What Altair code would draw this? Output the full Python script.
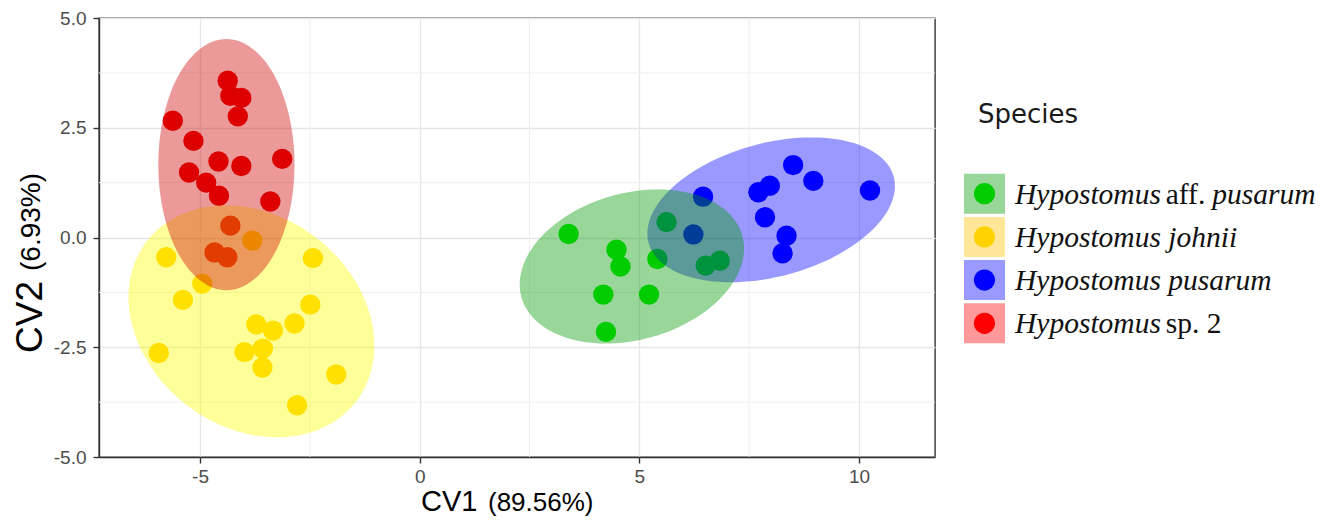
import math
import altair as alt
import pandas as pd

# ---------------- data ----------------
species = ["Hypostomus aff. pusarum", "Hypostomus johnii", "Hypostomus pusarum", "Hypostomus sp. 2"]

green_cv1 = [3.39, 4.48, 4.57, 5.41, 5.62, 6.51, 6.83, 4.18, 5.22, 4.24]
green_cv2 = [0.08, -0.28, -0.66, -0.49, 0.35, -0.64, -0.53, -1.30, -1.30, -2.15]

yellow_cv1 = [-5.77, -3.81, -4.95, -5.39, -2.43, -2.49, -3.72, -3.34, -2.85, -5.94, -3.99, -3.57, -3.58, -1.90, -2.79]
yellow_cv2 = [-0.45, -0.07, -1.05, -1.42, -0.47, -1.53, -1.98, -2.12, -1.96, -2.63, -2.61, -2.53, -2.96, -3.12, -3.82]

blue_cv1 = [6.45, 6.23, 7.71, 7.97, 8.50, 8.96, 10.25, 7.86, 8.35, 8.26]
blue_cv2 = [0.93, 0.07, 1.03, 1.18, 1.65, 1.29, 1.07, 0.46, 0.04, -0.36]

red_cv1 = [-4.37, -4.31, -4.06, -4.14, -5.62, -5.15, -5.25, -4.58, -4.06, -3.13, -4.86, -4.57, -3.40, -4.31, -4.67, -4.38]
red_cv2 = [3.57, 3.23, 3.18, 2.76, 2.66, 2.20, 1.48, 1.73, 1.63, 1.79, 1.25, 0.95, 0.82, 0.27, -0.34, -0.45]

# ellipse parameters (centre, semi-axes, rotation in degrees)
ell_cx = [4.83, -3.83, 8.00, -4.40]
ell_cy = [-0.66, -1.91, 0.63, 1.66]
ell_a = [2.61, 3.00, 2.89, 1.55]
ell_b = [1.67, 2.41, 1.52, 2.86]
ell_ang = [15.6, -37.3, 15.1, 0.0]

x_ticks = [-5, 0, 5, 10]
y_ticks = [-5.0, -2.5, 0.0, 2.5, 5.0]
x_minor = [-2.5, 2.5, 7.5]
y_minor = [-3.75, -1.25, 1.25, 3.75]

x_title = ["CV1", "(89.56%)"]
y_title = ["CV2", "(6.93%)"]
legend_title = "Species"
label_parts = [
    [("Hypostomus", "italic"), ("aff.", "normal"), ("pusarum", "italic")],
    [("Hypostomus johnii", "italic")],
    [("Hypostomus pusarum", "italic")],
    [("Hypostomus", "italic"), ("sp. 2", "normal")],
]

# ---------------- styles ----------------
point_colors = ["#00EE00", "#FFCC00", "#0000FF", "#E60000"]
ellipse_fill = ["#009900", "#FFFF00", "#0000FF", "#CC0000"]
legend_key_fill = ["#99D699", "#FFE699", "#9999FF", "#FF9999"]
legend_dot = ["#00CC00", "#FFD200", "#0000FF", "#FF0000"]
W, H = 836, 439

series = [(green_cv1, green_cv2), (yellow_cv1, yellow_cv2), (blue_cv1, blue_cv2), (red_cv1, red_cv2)]
rows = []
for sp, (xs, ys) in zip(species, series):
    for x, y in zip(xs, ys):
        rows.append({"species": sp, "cv1": x, "cv2": y})
pts = pd.DataFrame(rows)

xscale = alt.Scale(domain=[-7.3, 11.73], nice=False, zero=False)
yscale = alt.Scale(domain=[-5, 5], nice=False, zero=False)

neg = "(datum.value < 0 ? '-' : '')"
xaxis = alt.Axis(values=x_ticks, title=None, labelExpr=neg + " + format(abs(datum.value), 'd')")
yaxis = alt.Axis(values=y_ticks, title=None, labelExpr=neg + " + format(abs(datum.value), '.1f')")

minor_v = alt.Chart(pd.DataFrame({"v": x_minor})).mark_rule(color="#EFEFEF", strokeWidth=1).encode(
    x=alt.X("v:Q", scale=xscale, axis=xaxis))
minor_h = alt.Chart(pd.DataFrame({"h": y_minor})).mark_rule(color="#EFEFEF", strokeWidth=1).encode(
    y=alt.Y("h:Q", scale=yscale, axis=yaxis))

points = alt.Chart(pts).mark_circle(size=415, opacity=1).encode(
    x=alt.X("cv1:Q", scale=xscale, axis=xaxis),
    y=alt.Y("cv2:Q", scale=yscale, axis=yaxis),
    color=alt.Color("species:N", scale=alt.Scale(domain=species, range=point_colors), legend=None),
)

def ellipse_layer(i):
    th = math.radians(ell_ang[i])
    recs = []
    n = 120
    for k in range(n + 1):
        t = 2 * math.pi * k / n
        x = ell_cx[i] + ell_a[i] * math.cos(th) * math.cos(t) - ell_b[i] * math.sin(th) * math.sin(t)
        y = ell_cy[i] + ell_a[i] * math.sin(th) * math.cos(t) + ell_b[i] * math.cos(th) * math.sin(t)
        recs.append({"k": k, "ex": x, "ey": y})
    return alt.Chart(pd.DataFrame(recs)).mark_line(
        fill=ellipse_fill[i], fillOpacity=0.4, strokeOpacity=0, strokeWidth=0
    ).encode(
        x=alt.X("ex:Q", scale=xscale, axis=xaxis),
        y=alt.Y("ey:Q", scale=yscale, axis=yaxis),
        order="k:Q",
    )

# draw order of the ellipses: johnii, pusarum, aff. pusarum, sp. 2
ellipses = [ellipse_layer(i) for i in (1, 2, 0, 3)]

def text_at(txt, x, y, size, font="Liberation Sans", style="normal", angle=0, align="left",
            baseline="alphabetic", color="#000000"):
    return alt.Chart(pd.DataFrame({"t": [txt]})).mark_text(
        font=font, fontSize=size, fontStyle=style, angle=angle, align=align,
        baseline=baseline, color=color,
    ).encode(text="t:N", x=alt.value(x), y=alt.value(y))

titles = [
    text_at(x_title[0], 322, 493, 29),
    text_at(x_title[1], 389, 493, 26),
    text_at(y_title[0], -57, 335, 37, angle=270),
    text_at(y_title[1], -59, 253, 28, angle=270),
    text_at(legend_title, 879, 105, 26, font="DejaVu Sans", color="#1A1A1A"),
]

legend_layers = []
piece_offsets = {1: [0], 2: [0, 150.7], 3: [0, 150.7, 197.3]}
for i, sp in enumerate(species):
    cy = 175.7 + i * 43.2
    legend_layers.append(
        alt.Chart(pd.DataFrame({"s": [sp]})).mark_rect(color=legend_key_fill[i]).encode(
            x=alt.value(865), x2=alt.value(906), y=alt.value(cy - 20), y2=alt.value(cy + 20))
    )
    legend_layers.append(
        alt.Chart(pd.DataFrame({"s": [sp]})).mark_circle(size=450, opacity=1, color=legend_dot[i]).encode(
            x=alt.value(885.5), y=alt.value(cy))
    )
    parts = label_parts[i]
    offs = piece_offsets[len(parts)]
    for (txt, style), off in zip(parts, offs):
        legend_layers.append(text_at(txt, 916 + off, cy + 1, 29.5, font="Liberation Serif", style=style,
                                     baseline="middle", color="#111111"))

chart = alt.layer(minor_v, minor_h, points, *ellipses, *titles, *legend_layers).properties(
    width=W, height=H,
    padding={"left": 91, "top": 10, "right": 395, "bottom": 62},
    autosize=alt.AutoSizeParams(type="none"),
).configure_view(
    stroke="#333333", strokeWidth=1.4,
).configure_axis(
    domainColor="#333333", domainWidth=1.4, tickColor="#333333", tickWidth=1.4, tickSize=6,
    gridColor="#E6E6E6", gridWidth=1.3, labelFont="Liberation Sans", labelFontSize=19,
    labelColor="#4D4D4D",
).configure_axisX(
    labelPadding=4,
).configure_axisY(
    labelPadding=7,
)

chart.save("out.html", embed_options={"renderer": "svg", "actions": False})
